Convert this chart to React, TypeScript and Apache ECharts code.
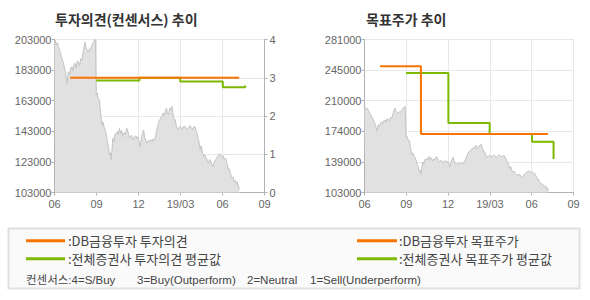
import React, { useEffect, useRef } from "react";
import * as echarts from "echarts";

// x values are months counted from 2018-06
const xTickLabels = ["06", "09", "12", "19/03", "06", "09"];

const priceMonths = [
  0.0, 0.05, 0.12, 0.2, 0.29, 0.36, 0.41, 0.5, 0.57, 0.64, 0.72, 0.8, 0.86, 0.9, 0.96, 1.0, 1.08, 1.16, 1.24, 1.3,
  1.38, 1.48, 1.55, 1.63, 1.71, 1.8, 1.88, 1.96, 2.03, 2.07, 2.13, 2.19, 2.26, 2.33, 2.43, 2.5, 2.58, 2.67, 2.75, 2.84,
  2.92, 2.98, 3.05, 3.12, 3.21, 3.3, 3.39, 3.47, 3.55, 3.62, 3.7, 3.79, 3.86, 3.93, 4.0, 4.03, 4.1, 4.17, 4.25, 4.33,
  4.41, 4.5, 4.57, 4.64, 4.72, 4.8, 4.88, 4.96, 5.05, 5.16, 5.25, 5.32, 5.4, 5.5, 5.58, 5.64, 5.72, 5.8, 5.88, 5.96,
  6.04, 6.12, 6.2, 6.28, 6.36, 6.44, 6.52, 6.6, 6.7, 6.8, 6.88, 6.96, 7.05, 7.12, 7.19, 7.28, 7.36, 7.44, 7.52, 7.6,
  7.68, 7.76, 7.84, 7.92, 8.0, 8.07, 8.14, 8.2, 8.26, 8.32, 8.38, 8.44, 8.5, 8.56, 8.62, 8.7, 8.79, 8.88, 8.98, 9.08,
  9.17, 9.25, 9.33, 9.42, 9.5, 9.6, 9.69, 9.78, 9.88, 9.96, 10.05, 10.11, 10.17, 10.23, 10.29, 10.35, 10.4, 10.46, 10.52, 10.58,
  10.64, 10.72, 10.83, 10.92, 11.0, 11.08, 11.17, 11.24, 11.31, 11.4, 11.48, 11.56, 11.64, 11.72, 11.79, 11.87, 11.95, 12.04, 12.12, 12.2,
  12.26, 12.34, 12.43, 12.5, 12.55, 12.63, 12.71, 12.77, 12.83, 12.9, 12.98, 13.05, 13.1, 13.15, 13.19,
];
const prices = [
  201000, 202500, 199500, 201000, 198000, 196500, 193900, 192000, 189500, 187400, 184000, 181500, 176000, 174300, 179500, 181900, 180000, 184500, 185100, 182500,
  186500, 187400, 184500, 189000, 188400, 186000, 190500, 189500, 193500, 196000, 199000, 201400, 197500, 196000, 194900, 197000, 196000, 199300, 200500, 202500,
  203000, 166700, 168000, 164500, 163400, 155000, 147100, 149000, 145500, 143900, 141000, 135200, 133000, 127600, 129000, 124300, 130000, 138500, 136000, 141500,
  140600, 143000, 141000, 145000, 141500, 143500, 139500, 142000, 141000, 145000, 142500, 140000, 138500, 140500, 139000, 137400, 139500, 140000, 138500, 139500,
  136500, 133000, 138000, 141500, 143900, 139000, 137000, 135200, 137000, 136500, 137500, 136200, 138000, 137000, 138500, 143000, 146000, 149300, 150500, 152000,
  152500, 155000, 153500, 156500, 158000, 154500, 153900, 156500, 158200, 157000, 159300, 155500, 152800, 150000, 150600, 146500, 144000, 145000, 146200, 144500,
  145100, 146500, 146200, 144500, 144000, 146000, 146700, 145000, 144500, 146000, 145800, 143500, 141900, 139000, 137500, 134000, 131000, 133500, 132000, 128500,
  126600, 128000, 125500, 124000, 122200, 124500, 123300, 121500, 120000, 122500, 124400, 125000, 126600, 127500, 128300, 127000, 126600, 127000, 124800, 125500,
  124400, 121000, 117800, 118500, 115700, 114000, 112400, 113000, 110200, 111000, 109100, 110000, 106900, 107500, 104700,
];

// 투자의견 (consensus score)
const dbOpinionMonths = [1.12, 13.19];
const dbOpinionValues = [3, 3];
const avgOpinionMonths = [2.98, 6.07, 8.98, 12.02, 13.62];
const avgOpinionValues = [2.93, 3.0, 2.9, 2.75, 2.8];

// 목표주가 (target price)
const dbTargetMonths = [1.12, 4.05, 13.17];
const dbTargetValues = [250000, 171000, 171000];
const avgTargetMonths = [2.98, 6.02, 8.98, 12.02, 13.57];
const avgTargetValues = [242000, 184000, 171000, 162000, 142000];

const leftPriceMin = 103000;
const leftPriceMax = 203000;
const rightPriceMin = 103000;
const rightPriceMax = 281000;

const ORANGE = "#f77400";
const GREEN = "#7cb900";
const AXIS = "#b2b2b2";
const GRID = "#e8e8e8";
const KFONT = "'Noto Sans CJK KR', 'Noto Sans', sans-serif";
const NFONT = "'Liberation Sans', Arial, sans-serif";
const MIXFONT = "'Liberation Sans', 'Noto Sans CJK KR', sans-serif";

export default function App() {
  const ref = useRef<HTMLDivElement>(null);
  useEffect(() => {
    if (!ref.current) return;
    const chart = echarts.init(ref.current, undefined, { renderer: "svg" });

    const zip = (xs: number[], ys: number[], off = 0) => xs.map((x, i) => [x, ys[i] - off]);

    const xAxisBase = (gridIndex: number) => ({
      type: "value" as const,
      gridIndex,
      min: 0,
      max: 15,
      interval: 3,
      axisLine: { lineStyle: { color: AXIS } },
      axisTick: { show: true, length: 3, lineStyle: { color: AXIS } },
      splitLine: { show: true, lineStyle: { color: GRID } },
      axisLabel: {
        color: "#666",
        fontSize: 11,
        fontFamily: NFONT,
        margin: 6,
        formatter: (v: number) => xTickLabels[Math.round(v / 3)] ?? "",
      },
    });

    const legendRowY1 = 240.7;
    const legendRowY2 = 258.7;
    const legendText = (text: string, x: number, y: number, size = 13, font = KFONT) => ({
      type: "text",
      style: { text, x, y, fill: "#444", fontSize: size, fontFamily: font, verticalAlign: "middle" },
    });

    chart.setOption({
      animation: false,
      backgroundColor: "#fff",
      title: [
        {
          text: "투자의견(컨센서스) 추이",
          left: 55,
          top: 12,
          padding: 0,
          textStyle: { fontSize: 14, fontWeight: "bold", color: "#333", fontFamily: KFONT },
        },
        {
          text: "목표주가 추이",
          left: 366,
          top: 12,
          padding: 0,
          textStyle: { fontSize: 14, fontWeight: "bold", color: "#333", fontFamily: KFONT },
        },
      ],
      grid: [
        { left: 54.5, top: 39.5, width: 210, height: 153, show: true, borderColor: AXIS, borderWidth: 1, backgroundColor: "transparent" },
        { left: 364.5, top: 39.5, width: 209, height: 153, show: true, borderColor: AXIS, borderWidth: 1, backgroundColor: "transparent" },
      ],
      xAxis: [xAxisBase(0), xAxisBase(1)],
      yAxis: [
        {
          type: "value",
          gridIndex: 0,
          position: "left",
          min: 0,
          max: leftPriceMax - leftPriceMin,
          interval: 20000,
          axisLine: { show: true, lineStyle: { color: AXIS } },
          axisTick: { show: true, length: 3, lineStyle: { color: AXIS } },
          splitLine: { show: false },
          axisLabel: {
            color: "#666",
            fontSize: 11,
            fontFamily: NFONT,
            margin: 3,
            formatter: (v: number) => String(v + leftPriceMin),
          },
        },
        {
          type: "value",
          gridIndex: 0,
          position: "right",
          min: 0,
          max: 4,
          interval: 1,
          axisLine: { show: true, lineStyle: { color: AXIS } },
          axisTick: { show: true, length: 3, lineStyle: { color: AXIS } },
          splitLine: { show: true, lineStyle: { color: GRID } },
          axisLabel: { color: "#666", fontSize: 11, fontFamily: NFONT, margin: 5 },
        },
        {
          type: "value",
          gridIndex: 1,
          position: "left",
          min: 0,
          max: rightPriceMax - rightPriceMin,
          interval: (rightPriceMax - rightPriceMin) / 5,
          axisLine: { show: true, lineStyle: { color: AXIS } },
          axisTick: { show: true, length: 3, lineStyle: { color: AXIS } },
          splitLine: { show: true, lineStyle: { color: GRID } },
          axisLabel: {
            color: "#666",
            fontSize: 11,
            fontFamily: NFONT,
            margin: 3,
            formatter: (v: number) => String(Math.round((v + rightPriceMin) / 1000) * 1000),
          },
        },
      ],
      series: [
        {
          name: "주가",
          type: "line",
          xAxisIndex: 0,
          yAxisIndex: 0,
          data: zip(priceMonths, prices, leftPriceMin),
          showSymbol: false,
          lineStyle: { color: "#c4c4c4", width: 1 },
          areaStyle: { color: "#e1e1e1", opacity: 1 },
          z: 1,
        },
        {
          name: "전체증권사 투자의견 평균값",
          type: "line",
          xAxisIndex: 0,
          yAxisIndex: 1,
          step: "end",
          data: zip(avgOpinionMonths, avgOpinionValues),
          showSymbol: false,
          lineStyle: { color: GREEN, width: 2 },
          z: 2,
        },
        {
          name: "DB금융투자 투자의견",
          type: "line",
          xAxisIndex: 0,
          yAxisIndex: 1,
          step: "end",
          data: zip(dbOpinionMonths, dbOpinionValues),
          showSymbol: false,
          lineStyle: { color: ORANGE, width: 2 },
          z: 3,
        },
        {
          name: "주가2",
          type: "line",
          xAxisIndex: 1,
          yAxisIndex: 2,
          data: zip(priceMonths, prices, rightPriceMin),
          showSymbol: false,
          lineStyle: { color: "#c4c4c4", width: 1 },
          areaStyle: { color: "#e1e1e1", opacity: 1 },
          z: 1,
        },
        {
          name: "전체증권사 목표주가 평균값",
          type: "line",
          xAxisIndex: 1,
          yAxisIndex: 2,
          step: "end",
          data: zip(avgTargetMonths, avgTargetValues, rightPriceMin),
          showSymbol: false,
          lineStyle: { color: GREEN, width: 2 },
          z: 2,
        },
        {
          name: "DB금융투자 목표주가",
          type: "line",
          xAxisIndex: 1,
          yAxisIndex: 2,
          step: "end",
          data: zip(dbTargetMonths, dbTargetValues, rightPriceMin),
          showSymbol: false,
          lineStyle: { color: ORANGE, width: 2 },
          z: 3,
        },
      ],
      graphic: [
        {
          type: "rect",
          shape: { x: 8.5, y: 228.5, width: 571, height: 60 },
          style: { fill: "#fafafa", stroke: "#e0e0e0", lineWidth: 2 },
        },
        { type: "line", shape: { x1: 26, y1: legendRowY1, x2: 65, y2: legendRowY1 }, style: { stroke: ORANGE, lineWidth: 3 } },
        { type: "line", shape: { x1: 26, y1: legendRowY2, x2: 65, y2: legendRowY2 }, style: { stroke: GREEN, lineWidth: 3 } },
        { type: "line", shape: { x1: 357, y1: legendRowY1, x2: 397, y2: legendRowY1 }, style: { stroke: ORANGE, lineWidth: 3 } },
        { type: "line", shape: { x1: 357, y1: legendRowY2, x2: 397, y2: legendRowY2 }, style: { stroke: GREEN, lineWidth: 3 } },
        legendText(":DB금융투자 투자의견", 68, legendRowY1),
        legendText(":전체증권사 투자의견 평균값", 68, legendRowY2),
        legendText(":DB금융투자 목표주가", 399, legendRowY1),
        legendText(":전체증권사 목표주가 평균값", 399, legendRowY2),
        legendText("컨센서스:4=S/Buy", 26, 280, 11.5, MIXFONT),
        legendText("3=Buy(Outperform)", 137, 280, 11.5, MIXFONT),
        legendText("2=Neutral", 247, 280, 11.5, MIXFONT),
        legendText("1=Sell(Underperform)", 310, 280, 11.5, MIXFONT),
      ],
    });
    return () => chart.dispose();
  }, []);

  return (
    <div
      ref={ref}
      style={{ position: "fixed", left: 0, top: 0, width: 590, height: 300, background: "#fff" }}
    />
  );
}
